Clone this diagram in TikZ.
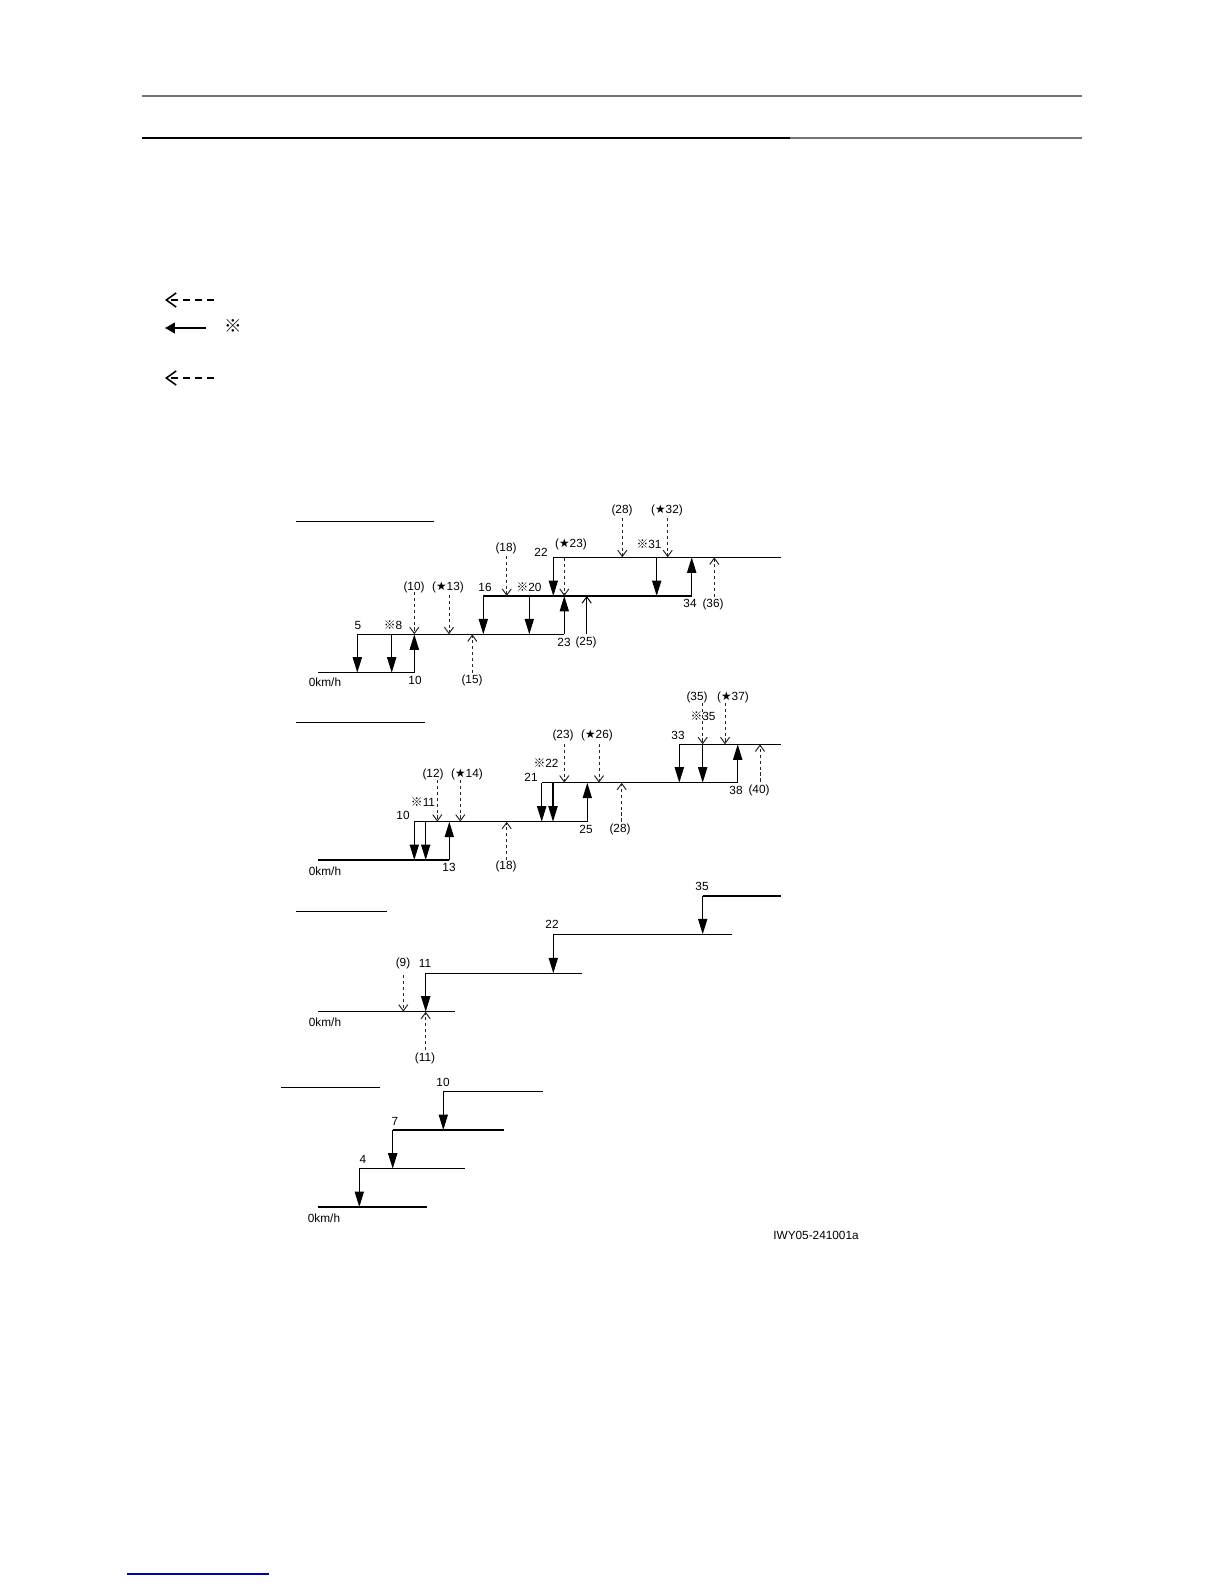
\documentclass[tikz,border=0pt]{standalone}
\usepackage{fontspec}
\setmainfont{Liberation Sans}
\newfontfamily\cjkfont{Noto Sans CJK JP}
\newfontfamily\symfont{DejaVu Sans}
\usetikzlibrary{arrows.meta}
\newcommand\kome{{\cjkfont ※}}
\newcommand\hoshi{{\symfont ★}}

\begin{document}
\begin{tikzpicture}[x=0.025cm,y=-0.025cm,line cap=butt,line join=miter,
  stepline/.style={line width=1pt},
  solidarr/.style={line width=1pt,-{Triangle[length=11pt,width=6.5pt]}},
  openarr/.style={line width=0.7pt,-{Straight Barb[length=4.5pt,width=6.5pt]}},
  dasharr/.style={openarr,dash pattern=on 2.4pt off 1.8pt,draw=black!85},
  lbl/.style={inner sep=0pt,font=\fontsize{8.4}{9}\selectfont},
  legdash/.style={line width=1.1pt,dash pattern=on 5pt off 3.5pt,-{Straight Barb[length=7pt,width=10pt]}},
  titlerule/.style={line width=0.7pt}]
  \useasboundingbox (0,0) rectangle (1224,1584);

  % header rules
  \draw[line width=1.2pt,black!55] (142,96) -- (1082,96);
  \draw[line width=1.2pt] (142,138) -- (790,138);
  \draw[line width=1.2pt,black!55] (790,138) -- (1082,138);

  % legend
  \draw[legdash] (214,300) -- (165,300);
  \draw[line width=1.4pt,-{Triangle[length=7pt,width=7.5pt]}] (206,328) -- (165,328);
  \node[inner sep=0pt,font=\fontsize{12.5}{13}\selectfont] (legk) at (233,326) {\kome};
  \draw[legdash] (214,378) -- (165,378);

  % chart 1
  \draw[titlerule] (296,521) -- (434,521);
  \draw[stepline] (318,672.7) -- (415,672.7);
  \draw[stepline] (357.3,634.3) -- (564.3,634.3);
  \draw[stepline] (483.3,596) -- (691.7,596);
  \draw[stepline] (553.3,557.3) -- (781,557.3);
  \foreach \x/\a/\b in {357.3/634.3/672.7,391.7/634.3/672.7,414.3/672.7/634.3,
    483.3/596/634.3,529.3/596/634.3,564.3/634.3/596,553.3/557.3/596,
    656.7/557.3/596,691.7/596/557.3}
    \draw[solidarr] (\x,\a) -- (\x,\b);
  \draw[openarr] (586.7,634.3) -- (586.7,596);
  \foreach \x/\a/\b in {414.3/592/634.3,449/595/634.3,506.7/556/596,
    564.3/558/596,622.3/518/557.3,667.7/518/557.3,472.3/673/634.3,714.3/597/557.3}
    \draw[dasharr] (\x,\a) -- (\x,\b);
  \node[lbl] (a5) at (358,625) {5};
  \node[lbl] (a8) at (393,625) {\kome 8};
  \node[lbl] (a10) at (415,680) {10};
  \node[lbl] (a10p) at (414,587) {(10)};
  \node[lbl] (a13p) at (448,587) {(\hoshi 13)};
  \node[lbl] (a15p) at (472,680) {(15)};
  \node[lbl] (a16) at (485,587) {16};
  \node[lbl] (a18p) at (506,548) {(18)};
  \node[lbl] (a20) at (529,587) {\kome 20};
  \node[lbl] (a23) at (564,642) {23};
  \node[lbl] (a25p) at (586,642) {(25)};
  \node[lbl] (a22) at (541,552) {22};
  \node[lbl] (a23p) at (571,544) {(\hoshi 23)};
  \node[lbl] (a28p) at (622,510) {(28)};
  \node[lbl] (a31) at (649,544) {\kome 31};
  \node[lbl] (a32p) at (667,510) {(\hoshi 32)};
  \node[lbl] (a34) at (690,603) {34};
  \node[lbl] (a36p) at (713,604) {(36)};
  \node[lbl] (a0) at (325,682) {0km/h};

  % chart 2
  \draw[titlerule] (296,722.3) -- (425,722.3);
  \draw[stepline] (318,860) -- (449.3,860);
  \draw[stepline] (414.3,821.7) -- (587.3,821.7);
  \draw[stepline] (541.7,782.7) -- (737.7,782.7);
  \draw[stepline] (679.3,744.3) -- (781,744.3);
  \foreach \x/\a/\b in {414.3/821.7/860,425.7/821.7/860,449.3/860/821.7,
    541.7/782.7/821.7,553/782.7/821.7,587.3/821.7/782.7,679.3/744.3/782.7,
    702.7/744.3/782.7,737.7/782.7/744.3}
    \draw[solidarr] (\x,\a) -- (\x,\b);
  \foreach \x/\a/\b in {437.3/780/821.7,460.3/780/821.7,564.3/744/782.7,
    599/744/782.7,702.7/703/744.3,725/703/744.3,506.7/860/821.7,
    621.7/821.7/782.7,760/781.7/744.3}
    \draw[dasharr] (\x,\a) -- (\x,\b);
  \node[lbl] (b10) at (403,815) {10};
  \node[lbl] (b11) at (423,802) {\kome 11};
  \node[lbl] (b12p) at (433,774) {(12)};
  \node[lbl] (b14p) at (467,774) {(\hoshi 14)};
  \node[lbl] (b13) at (449,867) {13};
  \node[lbl] (b18p) at (506,866) {(18)};
  \node[lbl] (b21) at (531,777) {21};
  \node[lbl] (b22) at (546,763) {\kome 22};
  \node[lbl] (b23p) at (563,735) {(23)};
  \node[lbl] (b26p) at (597,735) {(\hoshi 26)};
  \node[lbl] (b25) at (586,829) {25};
  \node[lbl] (b28p) at (620,829) {(28)};
  \node[lbl] (b33) at (678,735) {33};
  \node[lbl] (b35p) at (697,697) {(35)};
  \node[lbl] (b35) at (703,716) {\kome 35};
  \node[lbl] (b37p) at (733,697) {(\hoshi 37)};
  \node[lbl] (b38) at (736,790) {38};
  \node[lbl] (b40p) at (759,790) {(40)};
  \node[lbl] (b0) at (325,871) {0km/h};

  % chart 3
  \draw[titlerule] (296,911.7) -- (386.7,911.7);
  \draw[stepline] (318,1011.7) -- (455,1011.7);
  \draw[stepline] (425.7,973.3) -- (581.7,973.3);
  \draw[stepline] (553.3,934.3) -- (731.7,934.3);
  \draw[stepline] (702.7,896) -- (781,896);
  \foreach \x/\a/\b in {425.7/973.3/1011.7,553.3/934.3/973.3,702.7/896/934.3}
    \draw[solidarr] (\x,\a) -- (\x,\b);
  \draw[dasharr] (403.3,975) -- (403.3,1011.7);
  \draw[dasharr] (425.7,1050) -- (425.7,1011.7);
  \node[lbl] (c9p) at (403,963) {(9)};
  \node[lbl] (c11) at (425,963) {11};
  \node[lbl] (c22) at (552,924) {22};
  \node[lbl] (c35) at (702,886) {35};
  \node[lbl] (c11p) at (425,1058) {(11)};
  \node[lbl] (c0) at (325,1022) {0km/h};

  % chart 4
  \draw[titlerule] (281,1087.3) -- (380,1087.3);
  \draw[stepline] (443.3,1091.7) -- (542.7,1091.7);
  \draw[stepline] (392.7,1130) -- (504,1130);
  \draw[stepline] (359.3,1168.7) -- (465,1168.7);
  \draw[stepline] (318.3,1207) -- (426.7,1207);
  \foreach \x/\a/\b in {443.3/1091.7/1130,392.7/1130/1168.7,359.3/1168.7/1207}
    \draw[solidarr] (\x,\a) -- (\x,\b);
  \node[lbl] (d10) at (443,1082) {10};
  \node[lbl] (d7) at (395,1121) {7};
  \node[lbl] (d4) at (363,1159) {4};
  \node[lbl] (d0) at (324,1218) {0km/h};
  \node[lbl] (figid) at (816,1235) {IWY05-241001a};

  % footer rule
  \draw[line width=0.9pt,blue!70!black] (127,1574) -- (269,1574);
\end{tikzpicture}
\end{document}
